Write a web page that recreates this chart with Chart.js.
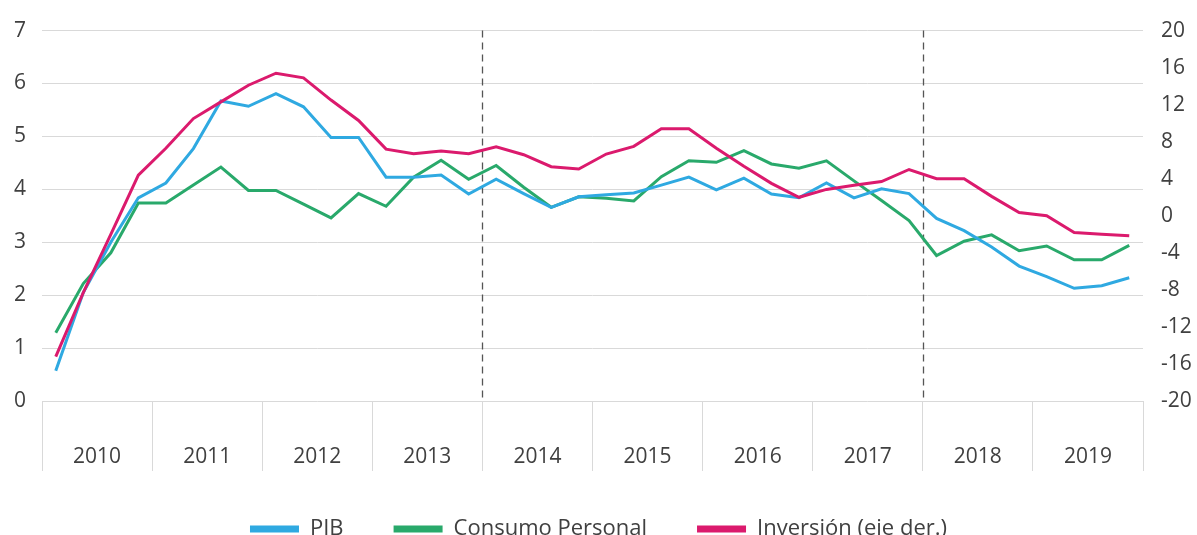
<!DOCTYPE html>
<html>
<head>
<meta charset="utf-8">
<script src="https://cdn.jsdelivr.net/npm/chart.js@4/dist/chart.umd.min.js"></script>
<style>
  html, body { margin: 0; padding: 0; background: #ffffff; overflow: hidden; }
  #wrap { position: relative; width: 1197px; height: 550px; }
</style>
</head>
<body>
<div id="wrap"><canvas id="c"></canvas></div>
<script>
// ---- data ----
const years = ['2010','2011','2012','2013','2014','2015','2016','2017','2018','2019'];
const quarterLabels = years.flatMap(y => ['T1','T2','T3','T4'].map(q => y + '-' + q));

const pib = [
  0.57, 2.05, 3.00, 3.84,
  4.12, 4.77, 5.67, 5.57,
  5.81, 5.56, 4.98, 4.98,
  4.23, 4.23, 4.27, 3.91,
  4.19, 3.92, 3.66, 3.86,
  3.90, 3.93, 4.08, 4.23,
  3.99, 4.21, 3.91, 3.84,
  4.12, 3.84, 4.01, 3.92,
  3.45, 3.22, 2.91, 2.55,
  2.35, 2.13, 2.18, 2.33
];
const consumo = [
  1.29, 2.22, 2.80, 3.74,
  3.74, 4.08, 4.42, 3.98,
  3.98, 3.72, 3.46, 3.92,
  3.68, 4.23, 4.55, 4.19,
  4.45, 4.04, 3.66, 3.86,
  3.83, 3.78, 4.24, 4.54,
  4.51, 4.73, 4.48, 4.40,
  4.54, 4.16, 3.79, 3.41,
  2.75, 3.02, 3.14, 2.84,
  2.93, 2.67, 2.67, 2.94
];
const inversion = [
  -15.2, -8.3, -2.0, 4.4,
  7.3, 10.5, 12.3, 14.1,
  15.4, 14.9, 12.5, 10.3,
  7.2, 6.7, 7.0, 6.7,
  7.45, 6.6, 5.3, 5.06,
  6.67, 7.5, 9.4, 9.4,
  7.3, 5.35, 3.5, 2.0,
  2.85, 3.3, 3.7, 5.0,
  4.0, 4.0, 2.1, 0.35,
  0.0, -1.8, -2.0, -2.15
];
const seriesNames = ['PIB', 'Consumo Personal', 'Inversión (eje der.)'];
const dashedBeforeYears = ['2014', '2018'];

// ---- styles ----
const colBlue = '#2FA9E1';
const colGreen = '#29A96B';
const colPink = '#DB1A6D';
const gridCol = '#d9d9d9';
const textCol = '#404040';

Chart.defaults.font.family = "'Open Sans', 'Liberation Sans', sans-serif";
Chart.defaults.font.size = 21;
Chart.defaults.color = textCol;

const dashedLines = {
  id: 'dashedLines',
  beforeDatasetsDraw(chart) {
    const xs = chart.scales.x;
    const area = chart.chartArea;
    const ctx = chart.ctx;
    ctx.save();
    ctx.strokeStyle = '#555555';
    ctx.lineWidth = 1.3;
    ctx.setLineDash([7, 5]);
    dashedBeforeYears.forEach(y => {
      const idx = years.indexOf(y) * 4;
      const px = Math.round((xs.getPixelForValue(idx - 1) + xs.getPixelForValue(idx)) / 2) + 0.5;
      ctx.beginPath();
      ctx.moveTo(px, area.top);
      ctx.lineTo(px, area.bottom);
      ctx.stroke();
    });
    ctx.restore();
  }
};

new Chart(document.getElementById('c'), {
  type: 'line',
  data: {
    labels: quarterLabels,
    datasets: [
      { label: seriesNames[0], data: pib, yAxisID: 'y', borderColor: colBlue, backgroundColor: colBlue, borderWidth: 3, pointRadius: 0, tension: 0, order: 1 },
      { label: seriesNames[1], data: consumo, yAxisID: 'y', borderColor: colGreen, backgroundColor: colGreen, borderWidth: 3, pointRadius: 0, tension: 0, order: 2 },
      { label: seriesNames[2], data: inversion, yAxisID: 'y1', borderColor: colPink, backgroundColor: colPink, borderWidth: 3, pointRadius: 0, tension: 0, order: 0 }
    ]
  },
  options: {
    responsive: true,
    maintainAspectRatio: false,
    animation: false,
    layout: { padding: { top: 28, left: 0, right: 0, bottom: 0 } },
    plugins: {
      tooltip: { enabled: false },
      legend: {
        position: 'bottom',
        labels: {
          boxWidth: 49,
          boxHeight: 7,
          padding: 50,
          color: textCol,
          font: { size: 22 },
          sort: (a, b) => a.datasetIndex - b.datasetIndex,
          generateLabels(chart) {
            const items = Chart.defaults.plugins.legend.labels.generateLabels(chart);
            items.forEach(it => { it.lineWidth = 0; it.strokeStyle = 'rgba(0,0,0,0)'; });
            return items;
          }
        }
      }
    },
    scales: {
      x: {
        type: 'category',
        display: false,
        offset: true
      },
      x2: {
        type: 'category',
        labels: years,
        position: 'bottom',
        offset: true,
        grid: { offset: true, drawOnChartArea: false, drawTicks: true, tickLength: 70, color: gridCol, lineWidth: 1 },
        border: { display: false },
        ticks: { padding: -27, maxRotation: 0, autoSkip: false, color: textCol },
        afterFit(s) { s.height = 67; }
      },
      y: {
        position: 'left',
        min: 0, max: 7,
        ticks: { stepSize: 1, padding: 16, color: textCol },
        grid: { color: gridCol, drawTicks: false, lineWidth: 1 },
        border: { display: false },
        afterFit(s) { s.width = 42; }
      },
      y1: {
        position: 'right',
        min: -20, max: 20,
        ticks: { stepSize: 4, padding: 18, color: textCol },
        grid: { drawOnChartArea: false, drawTicks: false },
        border: { display: false },
        afterFit(s) { s.width = 54; }
      }
    }
  },
  plugins: [dashedLines]
});
</script>
</body>
</html>
